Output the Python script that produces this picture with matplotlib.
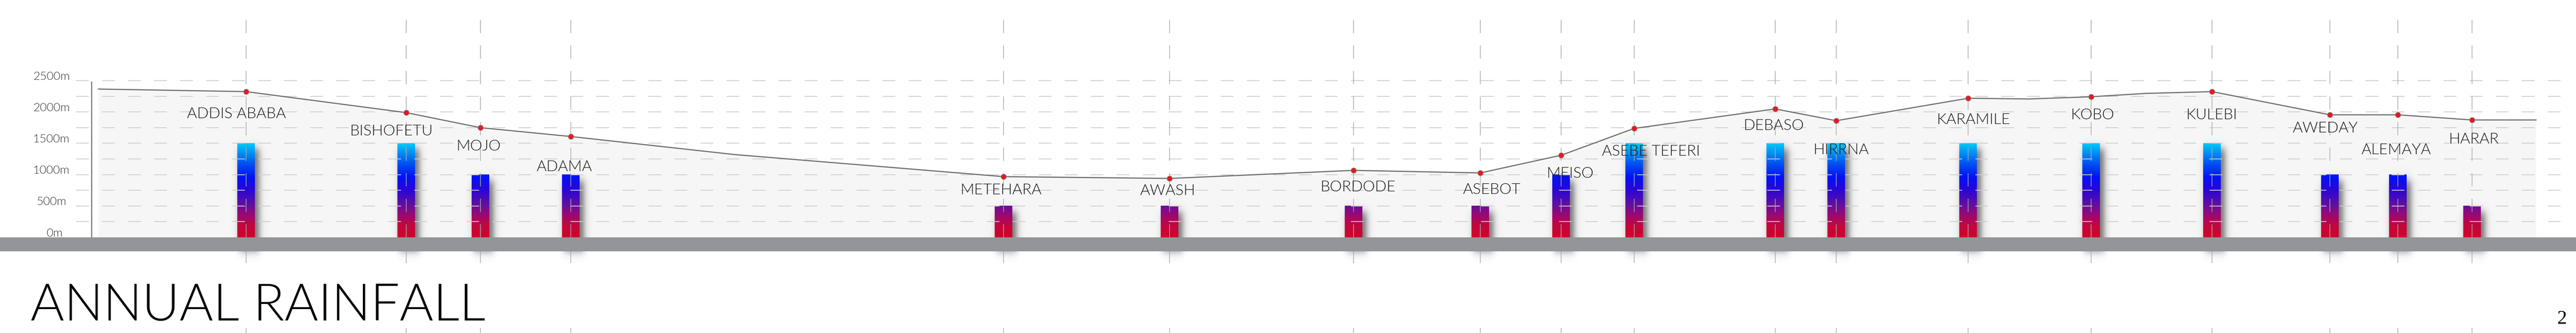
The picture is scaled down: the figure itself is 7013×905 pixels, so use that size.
import numpy as np
import matplotlib
matplotlib.use("Agg")
import matplotlib.pyplot as plt
from matplotlib.colors import LinearSegmentedColormap, Normalize

plt.rcParams['font.family'] = ['Lato', 'DejaVu Sans']
plt.rcParams['lines.scale_dashes'] = False

# stations along the route (x = distance along the drawing)
stations = ["ADDIS ABABA", "BISHOFETU", "MOJO", "ADAMA", "METEHARA", "AWASH",
            "BORDODE", "ASEBOT", "MEISO", "ASEBE TEFERI", "DEBASO", "HIRRNA",
            "KARAMILE", "KOBO", "KULEBI", "AWEDAY", "ALEMAYA", "HARAR"]
station_x = [670, 1106, 1308, 1554, 2732, 3184, 3685, 4030, 4250, 4449,
             4833, 4999, 5358, 5693, 6022, 6343, 6528, 6730]
elevation = [2324, 1989, 1749, 1608, 968, 939, 1068, 1027, 1309, 1737,
             2048, 1860, 2218, 2242, 2324, 1954, 1954, 1872]
rainfall = [1500, 1500, 1000, 1000, 500, 500, 500, 500, 1000, 1500,
            1500, 1500, 1500, 1500, 1500, 1000, 1000, 500]

# full elevation profile (stations plus a few unlabeled points)
profile_x = [268, 670, 1106, 1308, 1554, 2000, 2732, 3184, 3685, 4030, 4250,
             4449, 4833, 4999, 5358, 5524, 5693, 5840, 6022, 6343, 6528, 6730, 6904]
profile_elev = [2365, 2324, 1989, 1749, 1608, 1320, 968, 939, 1068, 1027, 1309,
                1737, 2048, 1860, 2218, 2207, 2242, 2295, 2324, 1954, 1954, 1872, 1872]

grid_levels = [250, 500, 750, 1000, 1250, 1500, 1750, 2000, 2250, 2500]
tick_levels = [0, 500, 1000, 1500, 2000, 2500]

# label placement relative to the dots (pixels)
label_dx = [-26, -40, -5, -18, -7, -5, 12, 31, 25, 46, -4, 13, 15, 4, -1, -13, -5, 5]
label_dy = [61, 50, 51, 83, 36, 34, 45, 46, 50, 62, 45, 79, 58, 50, 64, 36, 95, 52]

W, H = 7013, 905
BASE = 645            # pixel row of 0 m
MPP = 2500 / 426.0    # metres per pixel


def py(row):
    return (BASE - row) * MPP


fig = plt.figure(figsize=(W / 100, H / 100), dpi=100)
ax = fig.add_axes([0, 0, 1, 1])
ax.axis('off')

# light area under the profile
ax.fill_between(profile_x, profile_elev, 0, color='#f6f6f6', lw=0, zorder=1)

# dashed grid
ax.hlines(grid_levels, 207, 6995, colors='#cdcdcd', lw=1.6,
          linestyles=[(0, (25, 26))], zorder=5)

# left axis line
ax.vlines(249, 0, py(221), colors='#7a7a7a', lw=2.2, zorder=5)

# bar colours follow absolute height
cmap = LinearSegmentedColormap.from_list("rain", [
    (0.0, '#d4002a'), (0.12, '#c2083c'), (0.25, '#95097a'), (0.36, '#5c0fa6'),
    (0.5, '#2c06d6'), (0.64, '#0212f6'), (0.8, '#005af0'), (1.0, '#00c8f5')])
norm = Normalize(0, 1500)
bar_w = 48

for x, r in zip(station_x, rainfall):
    x0, x1 = x - bar_w / 2, x + bar_w / 2
    top_row = BASE - r / MPP
    # soft drop shadow
    sx0, sx1 = x0 + 6, x1 + 12
    sy0, sy1 = top_row + 16, 682
    pad = 50
    xs = np.arange(sx0 - pad, sx1 + pad)
    ys = np.arange(sy0 - pad, sy1 + pad)
    sx_, sy_ = 10.0, 14.0
    ax_ = 0.5 * (np.tanh((xs - sx0) / sx_) - np.tanh((xs - sx1) / sx_))
    ay_ = 0.5 * (np.tanh((ys - sy0) / sy_) - np.tanh((ys - sy1) / sy_))
    alpha = np.outer(ay_, ax_) * 0.8
    img = np.zeros((len(ys), len(xs), 4))
    img[..., :3] = 0.33
    img[..., 3] = alpha
    ax.imshow(img, extent=[xs[0], xs[-1], py(ys[-1]), py(ys[0])],
              origin='upper', aspect='auto', zorder=3, interpolation='bilinear')
    # gradient bar
    grad = np.linspace(0, r, 200)[:, None]
    ax.imshow(grad, extent=[x0, x1, 0, r], origin='lower', aspect='auto',
              cmap=cmap, norm=norm, zorder=4, interpolation='bilinear')

# station guide lines
ax.vlines(station_x, py(715), py(30), colors='#a8a8a8', lw=1.3,
          linestyles=[(0, (26, 24))], zorder=5)
ax.vlines(station_x, py(905), py(892), colors='#a8a8a8', lw=1.3, zorder=5)

# ground band
ax.fill_between([0, W], py(683), 0, color='#939598', lw=0, zorder=6)

# elevation profile
ax.plot(profile_x, profile_elev, color='#6d6e70', lw=2.2, zorder=7)
ax.plot(station_x, elevation, 'o', ms=10.5, mfc='#e31b23', mec='#8a8a8a',
        mew=1.0, zorder=8, ls='none')

for name, x, e, dx, dy in zip(stations, station_x, elevation, label_dx, label_dy):
    ax.annotate(name, xy=(x, e), xytext=(dx, -dy), textcoords='offset pixels',
                ha='center', va='center', fontsize=30, fontweight=300,
                color='#1a1a1a', zorder=9)

for lv in tick_levels:
    ax.text(140 if lv else 149, lv + 11 * MPP, f"{lv}m", ha='center', va='center',
            fontsize=23, fontweight=300, color='#333333', zorder=9)

ax.set_xlim(0, W)
ax.set_ylim(py(H), py(0))

fig.text(83 / W, 1 - 871 / H, "ANNUAL RAINFALL", fontsize=101, fontweight=300,
         color='#000000', ha='left', va='baseline')
fig.text(6975 / W, 1 - 880 / H, "2", fontsize=38, family='Liberation Serif',
         color='#000000', ha='center', va='baseline')

fig.savefig("out.png", dpi=100, facecolor='white')
